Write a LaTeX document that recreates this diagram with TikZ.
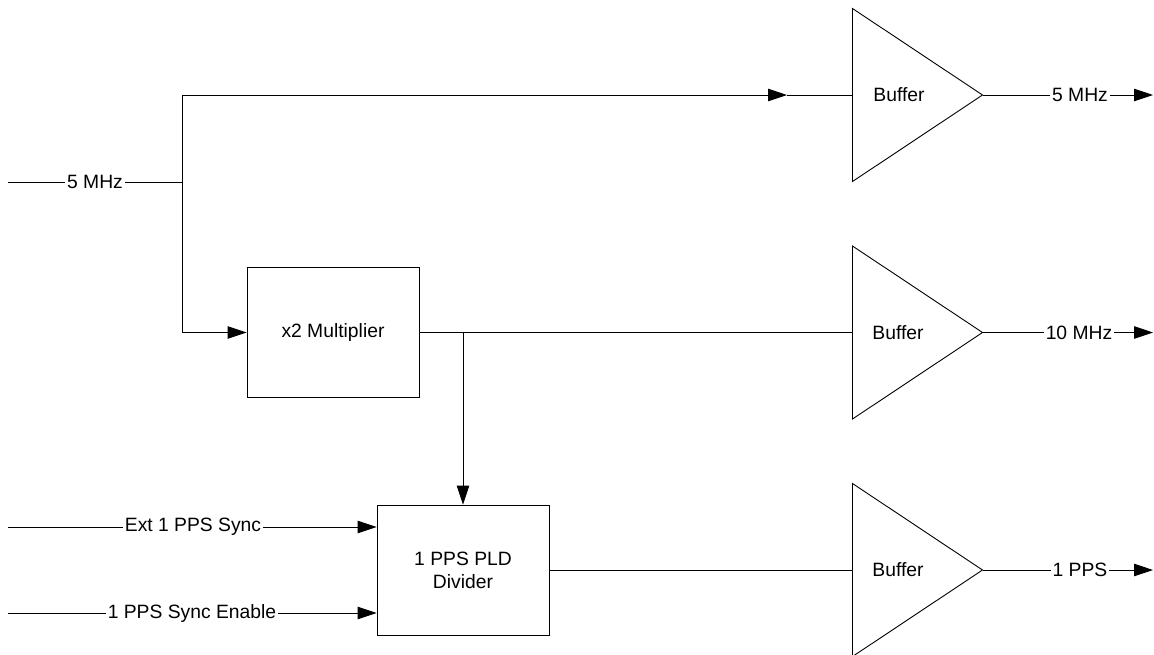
\documentclass[tikz,border=0pt]{standalone}
\usepackage{fontspec}
\setmainfont{Liberation Sans}
\usetikzlibrary{arrows.meta}
\begin{document}
\begin{tikzpicture}[x=1pt,y=-1pt,
  line width=0.9pt,
  arr/.style={-{Triangle[length=19pt,width=12.5pt]}},
  lbl/.style={fill=white,inner xsep=1.5pt,inner ysep=1pt,font=\fontsize{19.3}{23}\selectfont},
  txt/.style={inner sep=0pt,font=\fontsize{19.3}{23}\selectfont},
  blk/.style={draw,minimum width=172pt,minimum height=130pt,align=center,inner sep=0pt,font=\fontsize{19.3}{23}\selectfont},
  buf/.style={draw,line join=miter}]
\useasboundingbox (0,0) rectangle (1154,654);

% buffers
\draw[buf] (852.5,8.5) -- (982.5,95) -- (852.5,181.5) -- cycle;
\draw[buf] (852.5,246) -- (982.5,332.5) -- (852.5,419) -- cycle;
\draw[buf] (852.5,483.5) -- (982.5,570) -- (852.5,656.5) -- cycle;
\node[txt] (b1) at (899,95) {Buffer};
\node[txt] (b2) at (898,332.5) {Buffer};
\node[txt] (b3) at (898,570) {Buffer};
\coordinate (b1in) at (852.5,95);   \coordinate (b1out) at (982.5,95);
\coordinate (b2in) at (852.5,332.5); \coordinate (b2out) at (982.5,332.5);
\coordinate (b3in) at (852.5,570);  \coordinate (b3out) at (982.5,570);

% blocks
\node[blk] (mul) at (333,332.5) {x2 Multiplier};
\node[blk] (pld) at (463,570) {1 PPS PLD\\Divider};

% input 5 MHz
\coordinate (in5) at (8,182);
\coordinate (j) at (182,182);
\coordinate (jt) at (182,95);
\coordinate (jb) at (182,332.5);
\coordinate (mid) at (787,95);
\node[lbl] (l5) at (95,182) {5 MHz};
\draw (in5) -- (l5) -- (j);
\draw (jt) -- (jb);
\draw[arr] (jt) -- (mid);
\draw (mid) -- (b1in);
\draw[arr] (jb) -- (mul.west);

% multiplier to buffer and divider
\coordinate (br) at (463,332.5);
\draw (mul.east) -- (b2in);
\draw[arr] (br) -- (pld.north);

% divider inputs
\coordinate (e1) at (8,527);
\coordinate (e2) at (8,613);
\node[lbl] (le1) at (193,527) {Ext 1 PPS Sync};
\node[lbl] (le2) at (192,613) {1 PPS Sync Enable};
\draw (e1) -- (le1);
\draw[arr] (le1) -- (le1 -| pld.west);
\draw (e2) -- (le2);
\draw[arr] (le2) -- (le2 -| pld.west);

\draw (pld.east |- b3in) -- (b3in);

% outputs
\coordinate (t1) at (1153,95);
\coordinate (t2) at (1153,332.5);
\coordinate (t3) at (1153,570);
\node[lbl] (o1) at (1080,95) {5 MHz};
\node[lbl] (o2) at (1079,332.5) {10 MHz};
\node[lbl] (o3) at (1080,570) {1 PPS};
\draw (b1out) -- (o1); \draw[arr] (o1) -- (t1);
\draw (b2out) -- (o2); \draw[arr] (o2) -- (t2);
\draw (b3out) -- (o3); \draw[arr] (o3) -- (t3);
\end{tikzpicture}
\end{document}
